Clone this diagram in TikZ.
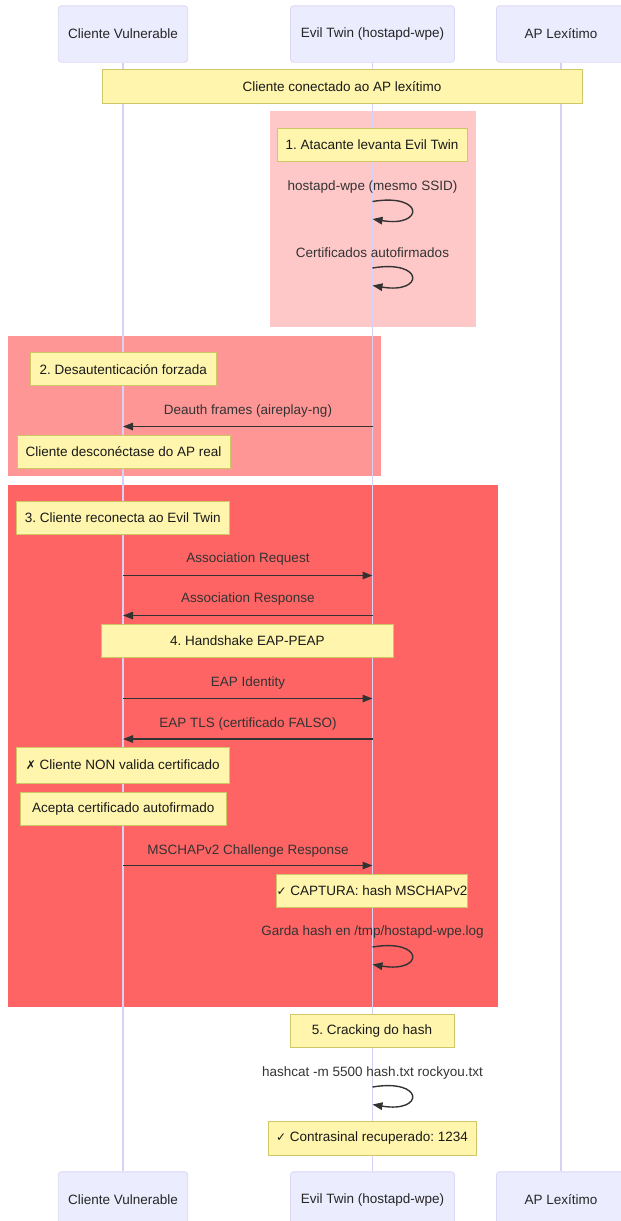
\documentclass[tikz,border=0pt]{standalone}
\usepackage{fontspec}
\setmainfont{Liberation Sans}
\newfontfamily\symfont{DejaVu Sans}
\usetikzlibrary{arrows.meta}
\frenchspacing

\definecolor{actorfill}{HTML}{ECECFF}
\definecolor{actorline}{HTML}{DCD6F7}
\definecolor{lifeline}{HTML}{D9D0F5}
\definecolor{notefill}{HTML}{FFF5AD}
\definecolor{notedraw}{HTML}{CFC766}
\definecolor{msgc}{HTML}{333333}
\definecolor{phaseA}{RGB}{255,200,200}
\definecolor{phaseB}{RGB}{255,150,150}
\definecolor{phaseC}{RGB}{255,100,100}

\tikzset{
  txt/.style={font=\fontsize{13.5}{16}\selectfont},
  actorbox/.style={txt, draw=actorline, fill=actorfill, rounded corners=3pt,
    line width=0.8pt, minimum height=56.3pt, inner sep=0pt, text=black!85},
  notebox/.style={txt, draw=notedraw, fill=notefill, line width=0.8pt,
    minimum height=33pt, inner sep=0pt, text=black!90},
  lbl/.style={txt, text=msgc, inner sep=0pt},
  msg/.style={draw=msgc, line width=1.4pt, -{Triangle[length=10pt,width=7.5pt]}},
  life/.style={draw=lifeline, line width=1.1pt},
}

\begin{document}
\begin{tikzpicture}[x=1pt,y=-1pt]
\useasboundingbox (0,0) rectangle (621,1221);

% phase backgrounds
\fill[phaseA] (269.5,111) rectangle (475.5,326.5);
\fill[phaseB] (7.5,336) rectangle (381,476);
\fill[phaseC] (7.5,484.5) rectangle (498,1007);

% participants, top and bottom
\node[actorbox, minimum width=129.4pt] (cvTop) at (123,34) {Cliente Vulnerable};
\node[actorbox, minimum width=164pt] (etTop) at (372.5,34) {Evil Twin (hostapd-wpe)};
\node[actorbox, minimum width=129pt] (apTop) at (561,34) {AP Lexítimo};
\node[actorbox, minimum width=129.4pt] (cvBot) at (123,1200) {Cliente Vulnerable};
\node[actorbox, minimum width=164pt] (etBot) at (372.5,1200) {Evil Twin (hostapd-wpe)};
\node[actorbox, minimum width=129pt] (apBot) at (561,1200) {AP Lexítimo};

% lifelines
\draw[life] (cvTop.south) -- (cvBot.north);
\draw[life] (etTop.south) -- (etBot.north);
\draw[life] (apTop.south) -- (apBot.north);

% notes
\node[notebox, minimum width=480pt, minimum height=33.5pt] (n0) at (342,86.3) {Cliente conectado ao AP lexítimo};
\node[notebox, minimum width=190pt] (n1) at (372,144.8) {1. Atacante levanta Evil Twin};
\node[notebox, minimum width=186.5pt] (n2) at (123.3,369.3) {2. Desautenticación forzada};
\node[notebox, minimum width=213pt] (n3) at (123.5,451.5) {Cliente desconéctase do AP real};
\node[notebox, minimum width=212.5pt] (n4) at (122.8,517.8) {3. Cliente reconecta ao Evil Twin};
\node[notebox, minimum width=291.5pt] (n5) at (247.3,640.5) {4. Handshake EAP-PEAP};
\node[notebox, minimum width=212.5pt, minimum height=36pt] (n6) at (122.8,765) {{\symfont\fontsize{12}{14}\selectfont ✗} Cliente NON valida certificado};
\node[notebox, minimum width=206.5pt] (n7) at (123.3,808.5) {Acepta certificado autofirmado};
\node[notebox, minimum width=188pt] (n8) at (372,890.5) {{\symfont\fontsize{12}{14}\selectfont ✓} CAPTURA: hash MSCHAPv2};
\node[notebox, minimum width=164pt] (n9) at (372,1030.5) {5. Cracking do hash};
\node[notebox, minimum width=208pt, minimum height=34pt] (n10) at (372,1138) {{\symfont\fontsize{12}{14}\selectfont ✓} Contrasinal recuperado: 1234};

% self messages on the Evil Twin
\node[lbl] (l1) at (372.5,187) {hostapd-wpe (mesmo SSID)};
\draw[msg] (etTop |- 0,201.5) .. controls +(52,-8.7) and +(52,8.7) .. (etTop |- 0,219);
\node[lbl] (l2) at (372.5,253) {Certificados autofirmados};
\draw[msg] (etTop |- 0,268) .. controls +(52,-8.7) and +(52,8.7) .. (etTop |- 0,285.5);

% deauthentication
\node[lbl] (l3) at (248,411) {Deauth frames (aireplay-ng)};
\draw[msg] (etTop |- 0,426.5) -- (cvTop |- 0,426.5);

% association
\node[lbl] (l4) at (248,559) {Association Request};
\draw[msg] (cvTop |- 0,575.5) -- (etTop |- 0,575.5);
\node[lbl] (l5) at (248,599.5) {Association Response};
\draw[msg] (etTop |- 0,615.5) -- (cvTop |- 0,615.5);

% EAP-PEAP
\node[lbl] (l6) at (248,683) {EAP Identity};
\draw[msg] (cvTop |- 0,698.5) -- (etTop |- 0,698.5);
\node[lbl] (l7) at (248,723.5) {EAP TLS (certificado FALSO)};
\draw[msg] (etTop |- 0,739) -- (cvTop |- 0,739);
\node[lbl] (l8) at (248,850.5) {MSCHAPv2 Challenge Response};
\draw[msg] (cvTop |- 0,865.5) -- (etTop |- 0,865.5);

% capture and cracking
\node[lbl] (l9) at (372.5,932) {Garda hash en /tmp/hostapd-wpe.log};
\draw[msg] (etTop |- 0,947) .. controls +(52,-8.7) and +(52,8.7) .. (etTop |- 0,964.5);
\node[lbl] (l10) at (372.5,1072.5) {hashcat -m 5500 hash.txt rockyou.txt};
\draw[msg] (etTop |- 0,1087) .. controls +(52,-8.7) and +(52,8.7) .. (etTop |- 0,1104.5);
\end{tikzpicture}
\end{document}
